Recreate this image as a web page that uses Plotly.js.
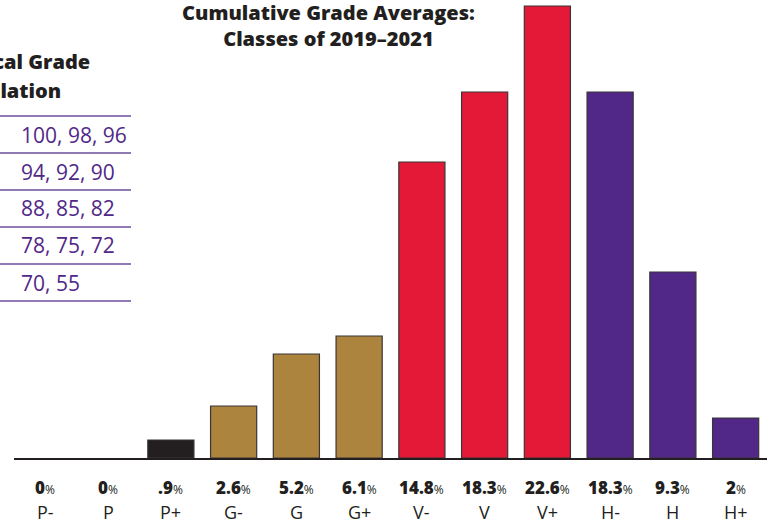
<!DOCTYPE html>
<html>
<head>
<meta charset="utf-8">
<script src="https://cdn.plot.ly/plotly-3.0.1.min.js"></script>
<style>html,body{margin:0;padding:0;background:#fff;}#chart{width:771px;height:524px;}</style>
</head>
<body>
<div id="chart"></div>
<script>
const categories = ["P-","P","P+","G-","G","G+","V-","V","V+","H-","H","H+"];
const percents = [0, 0, 0.9, 2.6, 5.2, 6.1, 14.8, 18.3, 22.6, 18.3, 9.3, 2];
const percentLabels = ["0","0",".9","2.6","5.2","6.1","14.8","18.3","22.6","18.3","9.3","2"];
const groupColors = ["#231F20","#231F20","#231F20","#AD843D","#AD843D","#AD843D","#E31937","#E31937","#E31937","#512888","#512888","#512888"];
const tableHeader = ["Numerical Grade","Translation"];
const tableRows = ["100, 98, 96","94, 92, 90","88, 85, 82","78, 75, 72","70, 55"];

const W = 771, H = 524;
const mL = 14, mR = 4, mT = 0, mB = 66;
const plotH = H - mT - mB;
function py(px){ return 1 - (px - mT) / plotH; }
function pxx(px){ return (px - mL) / (W - mL - mR); }

const trace = {
  type: "bar",
  x: categories,
  y: percents,
  marker: {color: groupColors, line: {color: "#3a3536", width: percents.map(v => v > 0 ? 1.2 : 0)}},
  hoverinfo: "x+y"
};

const annotations = [];
categories.forEach((c, i) => {
  annotations.push({
    x: c, xref: "x", y: 0, yref: "paper", yanchor: "middle", yshift: -29,
    text: percentLabels[i] + "<span style='font-weight:400;font-size:12px'>%</span>",
    showarrow: false, font: {family: "Open Sans, sans-serif", size: 17, weight: 800, color: "#231F20"}
  });
  annotations.push({
    x: c, xref: "x", y: 0, yref: "paper", yanchor: "middle", yshift: -54,
    text: c, showarrow: false,
    font: {family: "Open Sans, sans-serif", size: 18, color: "#231F20"}
  });
});

annotations.push({
  x: pxx(328), xref: "paper", y: py(-3), yref: "paper", yanchor: "top", xanchor: "center",
  text: "Cumulative Grade Averages:<br>Classes of 2019–2021", showarrow: false,
  align: "center",
  font: {family: "Open Sans, sans-serif", size: 20, weight: 800, color: "#231F20"}
});

annotations.push({
  x: pxx(92), xref: "paper", y: py(62), yref: "paper", xanchor: "right", yanchor: "middle",
  text: tableHeader[0], showarrow: false,
  font: {family: "Open Sans, sans-serif", size: 20, weight: 800, color: "#231F20"}
});
annotations.push({
  x: pxx(63), xref: "paper", y: py(91), yref: "paper", xanchor: "right", yanchor: "middle",
  text: tableHeader[1], showarrow: false,
  font: {family: "Open Sans, sans-serif", size: 20, weight: 800, color: "#231F20"}
});

const shapes = [];
const lineYs = [116, 153, 190, 227, 264, 301];
lineYs.forEach(yy => {
  shapes.push({type: "line", xref: "paper", yref: "paper",
    x0: pxx(0), x1: pxx(131), y0: py(yy), y1: py(yy),
    line: {color: "#6A4E9C", width: 1.5}});
});
tableRows.forEach((t, i) => {
  annotations.push({
    x: pxx(19), xref: "paper", y: py(134.5 + 37 * i), yref: "paper", xanchor: "left", yanchor: "middle",
    text: t, showarrow: false,
    font: {family: "Open Sans, sans-serif", size: 21, color: "#512888"}
  });
});

const layout = {
  width: W, height: H,
  margin: {l: mL, r: mR, t: mT, b: mB, pad: 0},
  paper_bgcolor: "#fff", plot_bgcolor: "#fff",
  showlegend: false,
  bargap: 0.265,
  xaxis: {type: "category", range: [-0.5, 11.5], showticklabels: false, ticks: "",
    showline: true, linecolor: "#231F20", linewidth: 1.5, showgrid: false, zeroline: false, fixedrange: true},
  yaxis: {range: [0, 22.9], visible: false, showgrid: false, zeroline: false, fixedrange: true},
  annotations: annotations,
  shapes: shapes
};

Plotly.newPlot("chart", [trace], layout, {displayModeBar: false, staticPlot: true});
</script>
</body>
</html>
